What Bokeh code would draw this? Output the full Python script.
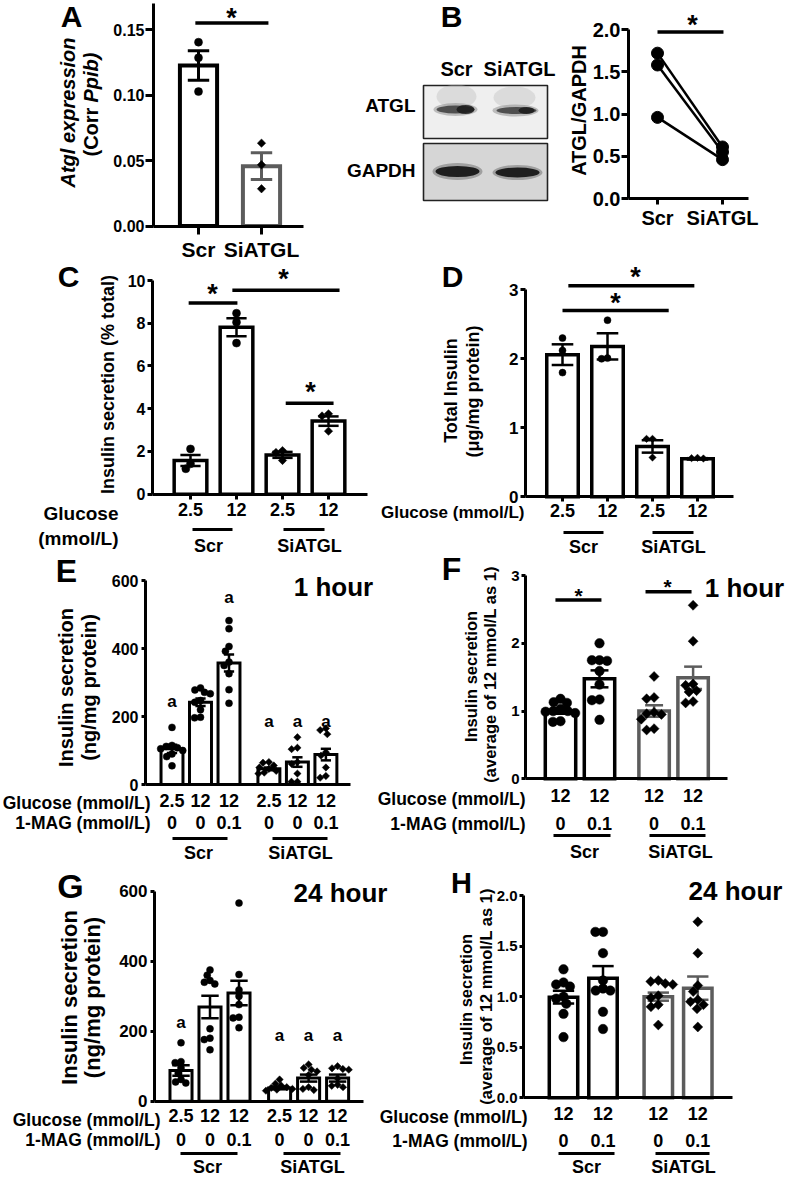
import numpy as np
from bokeh.plotting import figure
from bokeh.models import Range1d, LinearAxis, FixedTicker, PrintfTickFormatter
from bokeh.core.properties import value
from bokeh.embed import file_html
from bokeh.resources import INLINE

FONT = "Liberation Sans"

# ---------------- data ----------------
groups = ["Scr", "SiATGL"]

# A: Atgl expression (Corr Ppib)
a_mean = [0.1226, 0.0457]
a_sem = [0.0112, 0.0102]
a_points = [[0.1404, 0.1285, 0.1027], [0.0633, 0.0468, 0.0285]]

# B: ATGL/GAPDH paired
b_scr = [1.72, 1.58, 0.96]
b_siatgl = [0.61, 0.55, 0.46]

# C / D
cd_glucose = ["2.5", "12", "2.5", "12"]
c_mean = [1.58, 7.81, 1.84, 3.42]
c_sem = [0.26, 0.42, 0.14, 0.22]
c_points = [[2.12, 1.42, 1.19], [8.47, 8.05, 7.07], [2.04, 1.95, 1.58], [3.76, 3.66, 2.95]]

d_mean = [2.06, 2.18, 0.73, 0.55]
d_sem = [0.15, 0.19, 0.09, 0.01]
d_points = [[2.30, 2.12, 1.80], [2.56, 2.01, 2.00], [0.84, 0.84, 0.57], [0.565, 0.56, 0.555]]

# E / G (ng/mg protein)
eg_glucose = ["2.5", "12", "12", "2.5", "12", "12"]
eg_mag = ["0", "0", "0.1", "0", "0", "0.1"]
e_mean = [105, 242, 357, 46, 66, 88]
e_sem = [12, 11, 25, 4, 14, 17]
e_points = [
    [168, 115, 112, 108, 105, 100, 90, 82, 55],
    [284, 278, 271, 267, 247, 242, 220, 198, 196],
    [482, 458, 406, 392, 360, 350, 326, 279, 239],
    [66, 64, 56, 50, 46, 40, 35, 32],
    [139, 108, 104, 66, 60, 32, 8, 8],
    [165, 160, 148, 95, 85, 50, 25, 20],
]
e_letters = ["a", "", "a", "a", "a", "a"]

g_mean = [88, 269, 309, 38, 66, 66]
g_sem = [15, 32, 35, 4, 10, 10]
g_points = [
    [167, 113, 110, 95, 80, 62, 55, 52],
    [375, 360, 345, 340, 335, 207, 180, 176, 147],
    [566, 362, 318, 300, 276, 240, 238, 210],
    [62, 50, 45, 40, 38, 35, 33, 30],
    [105, 95, 90, 85, 75, 40, 35, 32],
    [100, 94, 92, 90, 65, 47, 44, 40],
]
g_letters = ["a", "", "", "a", "a", "a"]

# F / H (average of 12 mmol/L as 1)
fh_glucose = ["12", "12", "12", "12"]
fh_mag = ["0", "0.1", "0", "0.1"]
f_mean = [1.0, 1.475, 1.0, 1.49]
f_sem = [0.04, 0.125, 0.085, 0.165]
f_points = [
    [1.18, 1.13, 1.12, 1.03, 1.0, 1.0, 0.99, 0.97, 0.85, 0.84],
    [2.0, 1.75, 1.75, 1.74, 1.59, 1.39, 1.17, 1.16, 0.87],
    [1.51, 1.20, 1.18, 0.98, 0.96, 0.95, 0.88, 0.74, 0.72],
    [2.56, 2.03, 1.40, 1.38, 1.30, 1.28, 1.14, 1.12],
]
h_mean = [0.995, 1.182, 1.0, 1.084]
h_sem = [0.063, 0.12, 0.04, 0.115]
h_points = [
    [1.27, 1.14, 1.12, 1.10, 1.00, 0.98, 0.93, 0.83, 0.60],
    [1.64, 1.64, 1.43, 1.16, 1.08, 1.06, 1.06, 0.85, 0.68],
    [1.16, 1.15, 1.13, 1.12, 1.01, 0.99, 0.92, 0.90, 0.72],
    [1.74, 1.43, 1.11, 1.05, 0.97, 0.95, 0.92, 0.88, 0.70],
]

# ---------------- layout (page pixel calibration per panel) ----------------
W, H = 787, 1177
OX, OY = 0, 0
CAL = {
    "A": ((198, 1, 261, 2), (225.6, 0.0, 29.1, 0.15)),
    "B": ((657, 1, 722, 2), (198.0, 0.0, 29.0, 2.0)),
    "C": ((190, 1, 236, 2), (493.7, 0.0, 280.0, 10.0)),
    "D": ((562, 1, 607, 2), (496.3, 0.0, 289.3, 3.0)),
    "E": ((171.5, 1, 200, 2), (784.0, 0.0, 580.0, 600.0)),
    "F": ((560, 1, 599, 2), (778.3, 0.0, 575.0, 3.0)),
    "G": ((180.5, 1, 209.5, 2), (1100.7, 0.0, 890.7, 600.0)),
    "H": ((563, 1, 602.5, 2), (1097.3, 0.0, 895.0, 2.0)),
}


def lin(c):
    p0, v0, p1, v1 = c
    return lambda q: v0 + (q - p0) * (v1 - v0) / (p1 - p0)


def ppu(c):
    p0, v0, p1, v1 = c
    return abs((p1 - p0) / (v1 - v0))


p = figure(width=W, height=H, x_range=Range1d(OX, OX + W), y_range=Range1d(OY + H, OY),
           x_axis_location=None, y_axis_location=None, toolbar_location=None,
           min_border=0, outline_line_color=None, output_backend="svg",
           background_fill_color="white", border_fill_color="white")
p.grid.visible = False

exr, eyr = {}, {}
for k, (cx, cy) in CAL.items():
    fx, fy = lin(cx), lin(cy)
    exr[k + "x"] = Range1d(fx(OX), fx(OX + W))
    eyr[k + "y"] = Range1d(fy(OY + H), fy(OY))
p.extra_x_ranges = exr
p.extra_y_ranges = eyr


def txt(x, y, s, size, align="center", baseline="middle", style="bold", angle=0.0,
        color="black", xr="default", yr="default"):
    p.text(x=[x], y=[y], text=[s], text_font=value(FONT), text_font_style=style,
           text_font_size=f"{size}px", text_align=align, text_baseline=baseline,
           angle=angle, text_color=color, x_range_name=xr, y_range_name=yr)


def hline(x0, x1, y, lw=3):
    p.segment(x0=[x0], y0=[y], x1=[x1], y1=[y], line_color="black", line_width=lw)


def axes(k, yaxis_px, ytop, yticks, yfmt, yfs, xend_px, xticks, xlabels, xfs,
         xtick_out, xstand, lw=3, ytick_out=6, ystand=2):
    fx = lin(CAL[k][0])
    common = dict(x_range_name=k + "x", y_range_name=k + "y", axis_line_width=lw,
                  axis_line_color="black", major_tick_line_width=lw,
                  major_tick_line_color="black", major_tick_in=0,
                  minor_tick_line_color=None, major_label_text_font=FONT,
                  major_label_text_font_style="bold", major_label_text_color="black")
    ya = LinearAxis(fixed_location=fx(yaxis_px), bounds=(0, ytop),
                    ticker=FixedTicker(ticks=yticks, minor_ticks=[]),
                    formatter=PrintfTickFormatter(format=yfmt),
                    major_tick_out=ytick_out, major_label_standoff=ystand,
                    major_label_text_font_size=f"{yfs}px", **common)
    p.add_layout(ya, "left")
    xa = LinearAxis(fixed_location=0, bounds=(fx(yaxis_px), fx(xend_px)),
                    ticker=FixedTicker(ticks=xticks, minor_ticks=[]),
                    major_label_overrides={t: l for t, l in zip(xticks, xlabels)},
                    major_tick_out=xtick_out, major_label_standoff=xstand,
                    major_label_text_font_size=f"{xfs}px", **common)
    p.add_layout(xa, "below")


def swarm(vals, yp, d):
    offs = [0.0] * len(vals)
    placed = []
    order = sorted(range(len(vals)), key=lambda i: -vals[i])
    for i in order:
        y = vals[i] * yp
        forb = []
        for xo, yo in placed:
            dy = abs(y - yo)
            if dy < d:
                dx = (d * d - dy * dy) ** 0.5
                forb.append((xo - dx, xo + dx))
        cands = [0.0] + [e for f in forb for e in f]
        cands.sort(key=lambda c: (abs(c), c))
        for c in cands:
            if all(not (lo + 1e-6 < c < hi - 1e-6) for lo, hi in forb):
                offs[i] = c
                placed.append((c, y))
                break
    return offs


def bars(k, xs, means, sems, pts, cols, marks, bw, blw, cap, msize, elw=2.5, gap=0.85):
    xr, yr = k + "x", k + "y"
    cx, cy = CAL[k]
    xp, yp = ppu(cx), ppu(cy)
    p.vbar(x=xs, top=means, width=bw, bottom=0, fill_color="white", line_color=cols,
           line_width=blw, line_join="miter", x_range_name=xr, y_range_name=yr)
    lo = [m - s for m, s in zip(means, sems)]
    hi = [m + s for m, s in zip(means, sems)]
    p.segment(x0=xs, y0=lo, x1=xs, y1=hi, line_color=cols, line_width=elw,
              x_range_name=xr, y_range_name=yr)
    for ys in (lo, hi):
        p.segment(x0=[x - cap for x in xs], y0=ys, x1=[x + cap for x in xs], y1=ys,
                  line_color=cols, line_width=elw, x_range_name=xr, y_range_name=yr)
    for i, vals in enumerate(pts):
        offs = swarm(vals, yp, msize * gap)
        px = [xs[i] + o / xp for o in offs]
        if marks[i] == "d":
            p.scatter(x=px, y=vals, marker="square", angle=np.pi / 4, size=msize / 1.35,
                      fill_color="black", line_color="black", line_width=0.5,
                      x_range_name=xr, y_range_name=yr)
        else:
            p.scatter(x=px, y=vals, marker="circle", size=msize, fill_color="black",
                      line_color="black", line_width=0.5, x_range_name=xr, y_range_name=yr)


def sig(k, x0, x1, y, lw=3.5):
    p.segment(x0=[x0], y0=[y], x1=[x1], y1=[y], line_color="black", line_width=lw,
              x_range_name=k + "x", y_range_name=k + "y")


def star(x, y, size=27):
    txt(x, y + 0.12 * size, "*", size, baseline="alphabetic")


GREY = "#5c5c5c"

# ================= Panel A =================
txt(71, 16, "A", 30)
axes("A", 153, 0.17, [0, 0.05, 0.10, 0.15], "%.2f", 16, 303, [1, 2], groups, 21, 8, 4,
     ytick_out=8, ystand=1)
bars("A", [1, 2], a_mean, a_sem, a_points, ["black", GREY], ["o", "d"], 0.59, 4, 0.17, 8, elw=3)
sig("A", 0.95, 2.11, 0.155)
star(231, 14)
txt(67, 112, "Atgl expression", 20, style="bold italic", angle=np.pi / 2)
txt(90, 156, "(Corr ", 20, align="left", angle=np.pi / 2)
txt(90, 102, "Ppib)", 20, align="left", style="bold italic", angle=np.pi / 2)

# ================= Panel B =================
txt(451, 16, "B", 30)
txt(456, 68, "Scr", 20)
txt(519, 68, "SiATGL", 20)
txt(415, 105, "ATGL", 19, align="right")
txt(415, 170, "GAPDH", 19, align="right")
# blot boxes (illustration)
p.quad(left=[423], right=[547], top=[85], bottom=[138], fill_color="#efefef",
       line_color="#222222", line_width=1.6)
p.quad(left=[423], right=[547], top=[143], bottom=[200], fill_color="#d6d6d6",
       line_color="#222222", line_width=1.6)
p.ellipse(x=[456, 514], y=[96, 97], width=[40, 42], height=[24, 22],
          fill_color="#b8b8b8", fill_alpha=0.35, line_color=None)
p.ellipse(x=[455, 515], y=[109, 110], width=[44, 46], height=[13, 12],
          fill_color="#8a8a8a", fill_alpha=0.5, line_color=None)
p.ellipse(x=[455, 516], y=[109, 110], width=[38, 40], height=[8, 7],
          fill_color="#3c3c3c", fill_alpha=0.85, line_color=None)
p.ellipse(x=[465, 526], y=[109, 110], width=[18, 16], height=[9, 7],
          fill_color="#1a1a1a", fill_alpha=0.85, line_color=None)
p.ellipse(x=[457, 517], y=[171, 172], width=[50, 50], height=[17, 15],
          fill_color="#6a6a6a", fill_alpha=0.5, line_color=None)
p.ellipse(x=[457, 517], y=[171, 172], width=[44, 44], height=[11, 10],
          fill_color="#1e1e1e", line_color=None)
axes("B", 628, 2.0, [0, 0.5, 1.0, 1.5, 2.0], "%.1f", 20, 748, [1, 2], groups, 20, 6, 2,
     ytick_out=7, ystand=1)
p.segment(x0=[1] * 3, y0=b_scr, x1=[2] * 3, y1=b_siatgl, line_color="black", line_width=2.5,
          x_range_name="Bx", y_range_name="By")
p.scatter(x=[1] * 3 + [2] * 3, y=b_scr + b_siatgl, marker="circle", size=12,
          fill_color="black", line_color="black", x_range_name="Bx", y_range_name="By")
sig("B", 1.0, 2.015, 1.97)
star(692, 21)
txt(578, 110, "ATGL/GAPDH", 20, angle=np.pi / 2)

# ================= Panel C =================
txt(68, 276, "C", 30)
axes("C", 152, 10, [0, 2, 4, 6, 8, 10], "%d", 16, 367, [1, 2, 3, 4], cd_glucose, 18, 5, 4,
     ytick_out=5, ystand=2)
bars("C", [1, 2, 3, 4], c_mean, c_sem, c_points, ["black"] * 4, ["o", "o", "d", "d"],
     0.71, 3.5, 0.22, 8)
sig("C", 0.96, 2.02, 8.95)
sig("C", 1.91, 4.24, 9.54)
sig("C", 3.07, 4.11, 4.26)
star(212, 290)
star(283, 275)
star(310, 388)
txt(107, 384, "Insulin secretion (% total)", 18, angle=np.pi / 2)
txt(118, 513, "Glucose", 19, align="right")
txt(118, 538, "(mmol/L)", 19, align="right")
hline(192, 232, 529)
hline(283, 324, 529)
txt(208, 545, "Scr", 18)
txt(309, 545, "SiATGL", 18)

# ================= Panel D =================
txt(452, 276, "D", 30)
axes("D", 525, 3, [0, 1, 2, 3], "%d", 17, 733, [1, 2, 3, 4], cd_glucose, 18, 5, 2,
     ytick_out=5, ystand=2)
bars("D", [1, 2, 3, 4], d_mean, d_sem, d_points, ["black"] * 4, ["o", "o", "d", "d"],
     0.70, 3.5, 0.24, 7)
sig("D", 1.13, 3.93, 3.06)
sig("D", 1.0, 3.36, 2.70)
star(635, 273)
star(615, 299)
txt(450, 390, "Total Insulin", 18, angle=np.pi / 2)
txt(472, 391, "(\u03bcg/mg protein)", 18, angle=np.pi / 2)
txt(524, 512, "Glucose (mmol/L)", 17, align="right")
hline(563, 603, 532)
hline(652, 693, 532)
txt(583, 546, "Scr", 18)
txt(673, 546, "SiATGL", 18)

# ================= Panel E =================
E_X = [1, 2, 3, 4.4, 5.4, 6.4]
txt(66, 570, "E", 32)
axes("E", 145, 600, [0, 200, 400, 600], "%d", 16, 350, E_X, eg_glucose, 18, 0, 9,
     ytick_out=4, ystand=3)
bars("E", E_X, e_mean, e_sem, e_points, ["black"] * 6, ["o", "o", "o", "d", "d", "d"],
     0.77, 3, 0.18, 7)
e_letter_px = [696, None, 592.7, 716.7, 716.7, 716.7]
for x, s, yy in zip(E_X, e_letters, e_letter_px):
    if s:
        txt(x, yy + 4.5, s, 17, baseline="alphabetic", xr="Ex")
txt(333, 586, "1 hour", 26)
txt(65, 687, "Insulin secretion", 20, angle=np.pi / 2)
txt(88, 687, "(ng/mg protein)", 20, angle=np.pi / 2)
txt(150, 802, "Glucose (mmol/L)", 17.5, align="right")
txt(150, 822, "1-MAG (mmol/L)", 17.5, align="right")
for x, s in zip(E_X, eg_mag):
    txt(x, 822, s, 18, xr="Ex")
hline(172, 227, 838)
hline(272, 327, 838)
txt(198, 852, "Scr", 18)
txt(300, 852, "SiATGL", 18)

# ================= Panel F =================
F_X = [1, 2, 3.4, 4.4]
txt(451, 568, "F", 32)
axes("F", 525, 3, [0, 1, 2, 3], "%d", 15, 727, F_X, fh_glucose, 18, 0, 10,
     ytick_out=4, ystand=2)
bars("F", F_X, f_mean, f_sem, f_points, ["black", "black", GREY, GREY], ["o", "o", "d", "d"],
     0.78, 3.5, 0.23, 9.5, gap=0.8)
sig("F", 0.87, 2.05, 2.64)
sig("F", 3.18, 4.36, 2.76)
star(578, 592, 21)
star(667, 583, 21)
txt(744, 587, "1 hour", 26)
txt(470, 676, "Insulin secretion", 16.5, angle=np.pi / 2)
txt(489, 674, "(average of 12 mmol/L as 1)", 16.5, angle=np.pi / 2)
txt(525, 798, "Glucose (mmol/L)", 17.5, align="right")
txt(525, 823, "1-MAG (mmol/L)", 17.5, align="right")
for x, s in zip(F_X, fh_mag):
    txt(x, 823, s, 18, xr="Fx")
hline(553, 610, 835)
hline(649, 705, 835)
txt(584, 851, "Scr", 18)
txt(680, 851, "SiATGL", 18)

# ================= Panel G =================
txt(70, 885, "G", 34)
axes("G", 154, 600, [0, 200, 400, 600], "%d", 17, 363, E_X, eg_glucose, 18, 0, 8,
     ytick_out=4, ystand=3)
bars("G", E_X, g_mean, g_sem, g_points, ["black"] * 6, ["o", "o", "o", "d", "d", "d"],
     0.76, 3, 0.3, 7)
g_letter_px = [1017.3, None, None, 1030, 1030, 1030]
for x, s, yy in zip(E_X, g_letters, g_letter_px):
    if s:
        txt(x, yy + 4.5, s, 17, baseline="alphabetic", xr="Gx")
txt(293, 892, "24 hour", 26, align="left")
txt(69, 997, "Insulin secretion", 22, angle=np.pi / 2)
txt(92, 997, "(ng/mg protein)", 22, angle=np.pi / 2)
txt(160, 1119, "Glucose (mmol/L)", 17.5, align="right")
txt(160, 1139, "1-MAG (mmol/L)", 17.5, align="right")
for x, s in zip(E_X, eg_mag):
    txt(x, 1139, s, 18, xr="Gx")
hline(180, 237, 1153)
hline(283, 340, 1153)
txt(207, 1166, "Scr", 18)
txt(312, 1166, "SiATGL", 18)

# ================= Panel H =================
txt(461, 882, "H", 29)
axes("H", 523, 2.0, [0, 0.5, 1.0, 1.5, 2.0], "%.1f", 15, 732, F_X, fh_glucose, 18, 0, 9,
     ytick_out=4, ystand=2)
bars("H", F_X, h_mean, h_sem, h_points, ["black", "black", GREY, GREY], ["o", "o", "d", "d"],
     0.72, 3.5, 0.27, 9.5, gap=0.8)
txt(735, 890, "24 hour", 26)
txt(465, 999, "Insulin secretion", 16.5, angle=np.pi / 2)
txt(485, 996, "(average of 12 mmol/L as 1)", 16.5, angle=np.pi / 2)
txt(527, 1116, "Glucose (mmol/L)", 17.5, align="right")
txt(527, 1140, "1-MAG (mmol/L)", 17.5, align="right")
for x, s in zip(F_X, fh_mag):
    txt(x, 1140, s, 18, xr="Hx")
hline(558, 614, 1153)
hline(655, 709, 1153)
txt(586, 1166, "Scr", 18)
txt(683, 1166, "SiATGL", 18)

open("out.html", "w").write(file_html(p, INLINE))
